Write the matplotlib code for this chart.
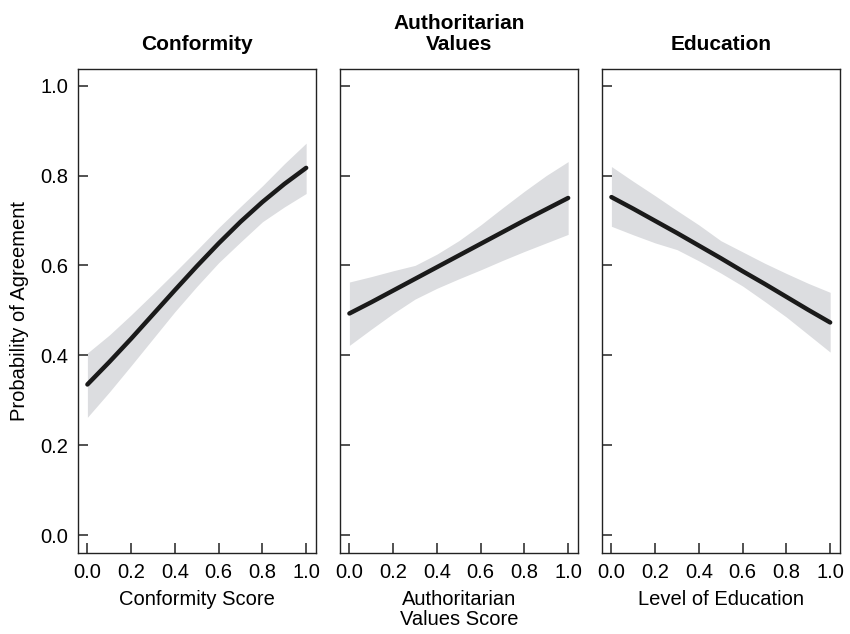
import matplotlib
matplotlib.use("Agg")
import matplotlib.pyplot as plt

plt.rcParams["font.family"] = ["Liberation Sans", "DejaVu Sans"]

# predicted probability of agreement with 95% band
x_vals = [0.0, 0.1, 0.2, 0.3, 0.4, 0.5, 0.6, 0.7, 0.8, 0.9, 1.0]

conf_fit = [0.335, 0.385, 0.437, 0.491, 0.545, 0.598, 0.649, 0.697, 0.741, 0.781, 0.817]
conf_hi = [0.405, 0.445, 0.490, 0.537, 0.585, 0.634, 0.684, 0.731, 0.777, 0.826, 0.872]
conf_lo = [0.262, 0.318, 0.377, 0.437, 0.497, 0.553, 0.606, 0.652, 0.697, 0.730, 0.760]

auth_fit = [0.493, 0.518, 0.544, 0.570, 0.596, 0.622, 0.648, 0.674, 0.700, 0.725, 0.750]
auth_hi = [0.563, 0.575, 0.588, 0.600, 0.625, 0.655, 0.690, 0.728, 0.765, 0.800, 0.831]
auth_lo = [0.422, 0.458, 0.493, 0.525, 0.549, 0.570, 0.590, 0.611, 0.631, 0.650, 0.669]

edu_fit = [0.752, 0.726, 0.699, 0.672, 0.644, 0.616, 0.587, 0.559, 0.530, 0.501, 0.473]
edu_hi = [0.820, 0.787, 0.755, 0.722, 0.690, 0.655, 0.630, 0.605, 0.582, 0.560, 0.540]
edu_lo = [0.687, 0.668, 0.650, 0.635, 0.610, 0.583, 0.554, 0.520, 0.485, 0.446, 0.407]

titles = ["Conformity", "Authoritarian\nValues", "Education"]
xlabels = ["Conformity Score", "Authoritarian\nValues Score", "Level of Education"]
ticks = [0.0, 0.2, 0.4, 0.6, 0.8, 1.0]
tick_labels = ["0.0", "0.2", "0.4", "0.6", "0.8", "1.0"]

panels = [
    (conf_fit, conf_lo, conf_hi),
    (auth_fit, auth_lo, auth_hi),
    (edu_fit, edu_lo, edu_hi),
]

FS = 14.5

fig = plt.figure(figsize=(8.5, 6.34), dpi=100)

left0 = 78 / 850
width = 238 / 850
step = 262 / 850
bottom = (634 - 553) / 634
height = (553 - 69) / 634

for i, (fit, lo, hi) in enumerate(panels):
    ax = fig.add_axes([left0 + i * step, bottom, width, height])
    ax.fill_between(x_vals, lo, hi, color="#dcdde0", linewidth=0)
    ax.plot(x_vals, fit, color="#1a1a1a", linewidth=3.2, solid_capstyle="round")

    ax.set_xlim(-0.043, 1.045)
    ax.set_ylim(-0.04, 1.037)
    ax.set_xticks(ticks)
    ax.set_xticklabels(tick_labels)
    ax.set_yticks(ticks)
    if i == 0:
        ax.set_yticklabels(tick_labels)
        ax.set_ylabel("Probability of Agreement", fontsize=FS, labelpad=8)
    else:
        ax.set_yticklabels([])

    ax.tick_params(direction="in", length=7, width=1.1, labelsize=FS, pad=7,
                   color="#222222")
    for sp in ax.spines.values():
        sp.set_linewidth(1.0)
        sp.set_color("#222222")

    ax.set_title(titles[i], fontsize=15, fontweight="bold", pad=14,
                 linespacing=1.1)
    ax.set_xlabel(xlabels[i], fontsize=FS, labelpad=6, linespacing=1.05)

fig.savefig("out.png", dpi=100)
